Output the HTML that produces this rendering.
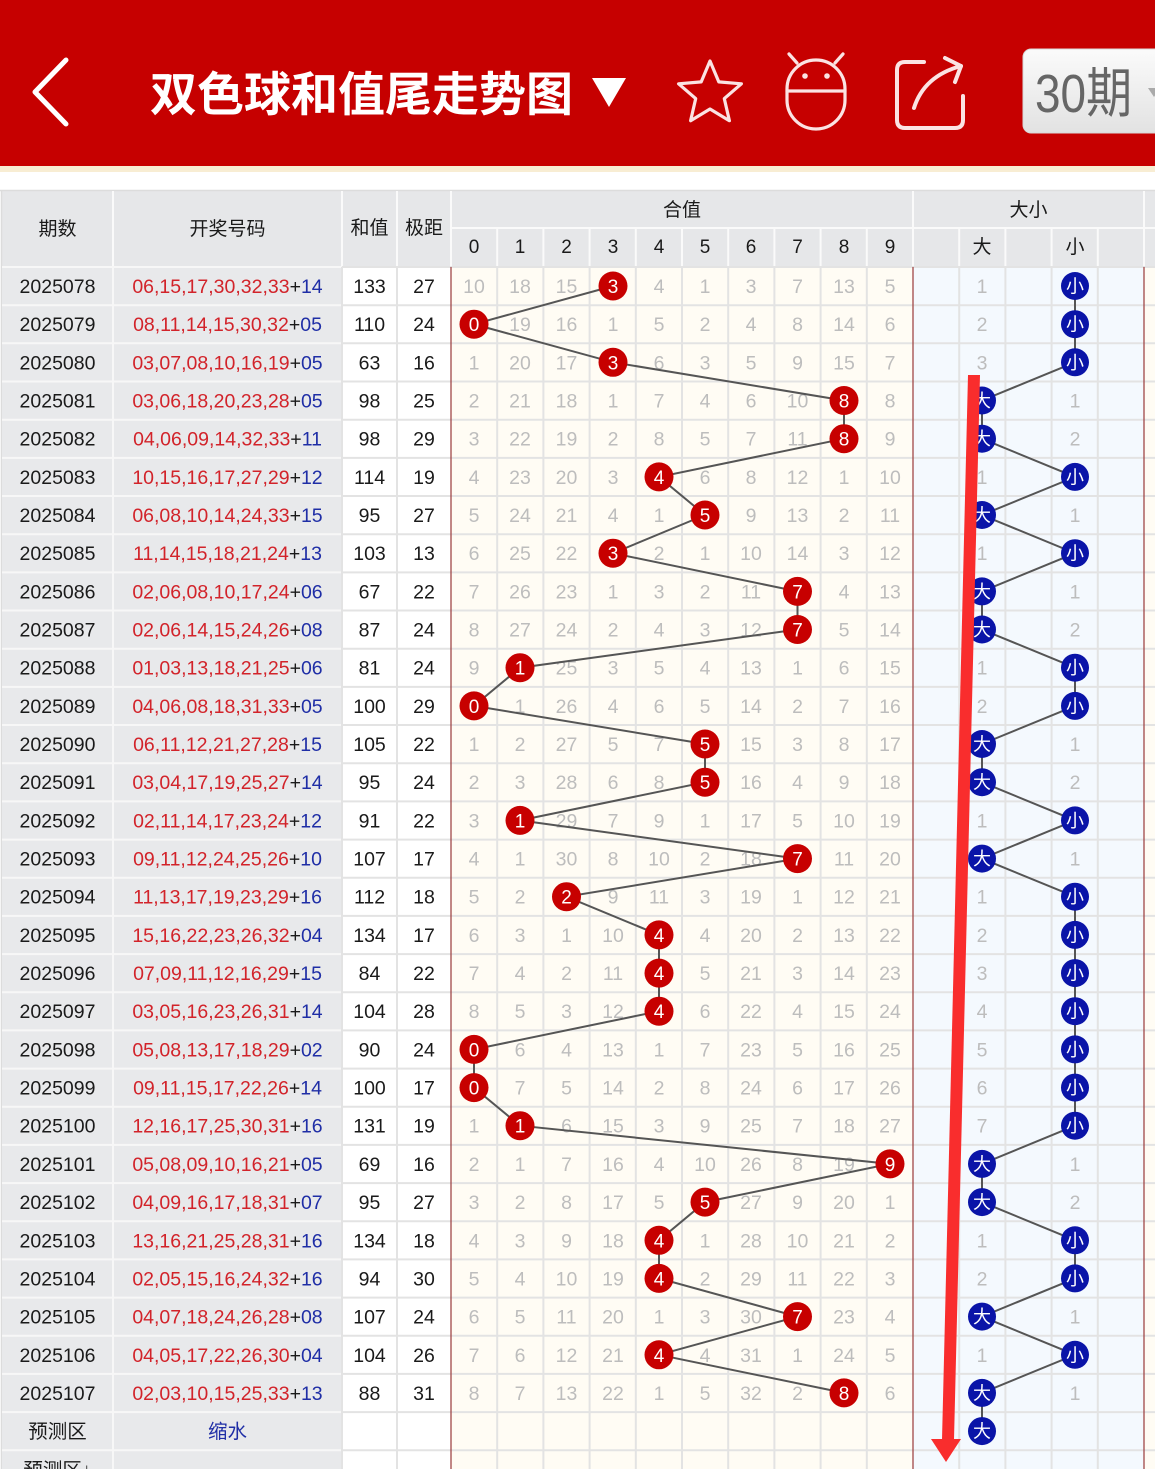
<!DOCTYPE html>
<html><head><meta charset="utf-8">
<style>
html,body{margin:0;padding:0;background:#fff;width:1155px;height:1469px;overflow:hidden}
svg{display:block}
text{font-family:"Liberation Sans","Noto Sans CJK SC",sans-serif}
.t{font-size:19.5px;fill:#1a1a1a;text-anchor:middle}
.r{fill:#d2232a}
.b{fill:#1f2ea6}
.m{font-size:19.5px;fill:#bdbdbd;text-anchor:middle}
.h{font-size:19px;fill:#1a1a1a;text-anchor:middle}
.rb circle{fill:#c70000}
.bb circle{fill:#0a14a8}
.rb text,.bb text{fill:#fff;text-anchor:middle}
.rb text{font-size:19px}
.bb text{font-size:18px}
</style></head>
<body>
<svg width="1155" height="1469" viewBox="0 0 1155 1469" xmlns="http://www.w3.org/2000/svg">
<defs>
<linearGradient id="btn" x1="0" y1="0" x2="0" y2="1"><stop offset="0" stop-color="#fbfbfb"/><stop offset="1" stop-color="#e2e2e2"/></linearGradient>
</defs>
<!-- top bar -->
<rect x="0" y="0" width="1155" height="166" fill="#c60000"/>
<rect x="0" y="166" width="1155" height="6" fill="#f8edd3"/>
<polyline points="66,60 35,92 66,124" fill="none" stroke="#fff" stroke-width="5" stroke-linecap="round" stroke-linejoin="round"/>
<text x="150" y="111" font-size="47" font-weight="bold" fill="#fff" style="font-family:'Noto Sans CJK SC','WenQuanYi Zen Hei',sans-serif">双色球和值尾走势图</text>
<polygon points="592,78 626,78 609,107" fill="#fff"/>
<polygon points="710,61 718.8,81.9 741.4,83.8 724.3,98.6 729.4,120.7 710,109 690.6,120.7 695.7,98.6 678.6,83.8 701.2,81.9" fill="none" stroke="#fbe3e3" stroke-width="3.2" stroke-linejoin="round"/>
<g fill="none" stroke="#fbe3e3" stroke-width="3.2" stroke-linecap="round">
<rect x="787" y="60" width="58" height="69" rx="29" ry="29"/>
<line x1="787" y1="91" x2="845" y2="91"/>
<line x1="789" y1="54" x2="797" y2="63"/>
<line x1="843" y1="54" x2="835" y2="63"/>
</g>
<circle cx="805" cy="76" r="2.8" fill="#fbe3e3"/>
<circle cx="827" cy="76" r="2.8" fill="#fbe3e3"/>
<g fill="none" stroke="#fbe3e3" stroke-width="4" stroke-linecap="round" stroke-linejoin="round">
<path d="M924,62 H905 Q897,62 897,70 V120 Q897,128 905,128 H955 Q963,128 963,120 V96"/>
<path d="M914,108 Q924,76 961,66"/>
<path d="M945,58 L961,66 L955,82"/>
</g>
<rect x="1023" y="49" width="150" height="84" rx="8" fill="url(#btn)" stroke="#d8d8d8"/>
<text x="1035" y="112" font-size="54" fill="#666" textLength="97" lengthAdjust="spacingAndGlyphs">30期</text>
<polygon points="1148,88 1160,88 1154,97" fill="#aaa"/>

<!-- table header -->
<rect x="2" y="191" width="1153" height="76" fill="#e6e7e9"/>
<line x1="0" y1="190.5" x2="1155" y2="190.5" stroke="#dcdcdc" stroke-width="1.5"/>
<line x1="1.5" y1="190" x2="1.5" y2="1469" stroke="#dcdcdc" stroke-width="1.5"/>
<g stroke="#fafafa" stroke-width="2">
<line x1="113" y1="191" x2="113" y2="267"/>
<line x1="342" y1="191" x2="342" y2="267"/>
<line x1="397" y1="191" x2="397" y2="267"/>
<line x1="451" y1="191" x2="451" y2="267"/>
<line x1="913" y1="191" x2="913" y2="267"/>
<line x1="1144" y1="191" x2="1144" y2="267"/>
<line x1="451" y1="228" x2="1155" y2="228"/>
<path d="M497.2,228V267M543.4,228V267M589.6,228V267M635.8,228V267M682,228V267M728.2,228V267M774.4,228V267M820.6,228V267M866.8,228V267M959.2,228V267M1005.4,228V267M1051.6,228V267M1097.8,228V267"/>
</g>
<text class="h" x="57.5" y="235">期数</text>
<text class="h" x="227.5" y="235">开奖号码</text>
<text class="h" x="369.5" y="234">和值</text>
<text class="h" x="424" y="234">极距</text>
<text class="h" x="682" y="216">合值</text>
<text class="h" x="1028.5" y="216">大小</text>
<text class="h" y="253"><tspan x="474">0</tspan><tspan x="520">1</tspan><tspan x="566.5">2</tspan><tspan x="613">3</tspan><tspan x="659">4</tspan><tspan x="705">5</tspan><tspan x="751">6</tspan><tspan x="797.5">7</tspan><tspan x="844">8</tspan><tspan x="890">9</tspan></text>
<text class="h" y="253"><tspan x="982">大</tspan><tspan x="1075">小</tspan></text>

<!-- body backgrounds -->
<rect x="2" y="267" width="340" height="1202" fill="#e8e9eb"/>
<rect x="342" y="267" width="109" height="1202" fill="#ffffff"/>
<rect x="451" y="267" width="462" height="1202" fill="#fffcf4"/>
<rect x="913" y="267" width="231" height="1202" fill="#f4f9fe"/>
<rect x="1144" y="267" width="11" height="1202" fill="#fffcf4"/>

<!-- grid -->
<path stroke="#f7f7f7" stroke-width="2" fill="none" d="M2,267H342M2,305.2H342M2,343.3H342M2,381.5H342M2,419.7H342M2,457.9H342M2,496H342M2,534.2H342M2,572.4H342M2,610.5H342M2,648.7H342M2,686.9H342M2,725H342M2,763.2H342M2,801.4H342M2,839.6H342M2,877.7H342M2,915.9H342M2,954.1H342M2,992.2H342M2,1030.4H342M2,1068.6H342M2,1106.7H342M2,1144.9H342M2,1183.1H342M2,1221.3H342M2,1259.4H342M2,1297.6H342M2,1335.8H342M2,1373.9H342M2,1412.1H342M2,1450.3H342M113,267V1469"/>
<path stroke="#e3e3e3" stroke-width="2" fill="none" d="M342,267H1155M342,305.2H1155M342,343.3H1155M342,381.5H1155M342,419.7H1155M342,457.9H1155M342,496H1155M342,534.2H1155M342,572.4H1155M342,610.5H1155M342,648.7H1155M342,686.9H1155M342,725H1155M342,763.2H1155M342,801.4H1155M342,839.6H1155M342,877.7H1155M342,915.9H1155M342,954.1H1155M342,992.2H1155M342,1030.4H1155M342,1068.6H1155M342,1106.7H1155M342,1144.9H1155M342,1183.1H1155M342,1221.3H1155M342,1259.4H1155M342,1297.6H1155M342,1335.8H1155M342,1373.9H1155M342,1412.1H1155M342,1450.3H1155M342,267V1469M397,267V1469M497.2,267V1469M543.4,267V1469M589.6,267V1469M635.8,267V1469M682,267V1469M728.2,267V1469M774.4,267V1469M820.6,267V1469M866.8,267V1469M959.2,267V1469M1005.4,267V1469M1051.6,267V1469M1097.8,267V1469"/>
<path stroke="#a04848" stroke-width="1.3" fill="none" d="M451,267V1469M913,267V1469M1144,267V1469"/>

<!-- rows text -->
<g transform="translate(0,286)"><text class="t" x="57.5" y="7">2025078</text><text class="t" x="227.5" y="7"><tspan class="r">06,15,17,30,32,33</tspan>+<tspan class="b">14</tspan></text><text class="t" x="369.5" y="7">133</text><text class="t" x="424" y="7">27</text><text class="m" y="7"><tspan x="474">10</tspan><tspan x="520">18</tspan><tspan x="566.5">15</tspan><tspan x="659">4</tspan><tspan x="705">1</tspan><tspan x="751">3</tspan><tspan x="797.5">7</tspan><tspan x="844">13</tspan><tspan x="890">5</tspan><tspan x="982">1</tspan></text></g>
<g transform="translate(0,324.2)"><text class="t" x="57.5" y="7">2025079</text><text class="t" x="227.5" y="7"><tspan class="r">08,11,14,15,30,32</tspan>+<tspan class="b">05</tspan></text><text class="t" x="369.5" y="7">110</text><text class="t" x="424" y="7">24</text><text class="m" y="7"><tspan x="520">19</tspan><tspan x="566.5">16</tspan><tspan x="613">1</tspan><tspan x="659">5</tspan><tspan x="705">2</tspan><tspan x="751">4</tspan><tspan x="797.5">8</tspan><tspan x="844">14</tspan><tspan x="890">6</tspan><tspan x="982">2</tspan></text></g>
<g transform="translate(0,362.3)"><text class="t" x="57.5" y="7">2025080</text><text class="t" x="227.5" y="7"><tspan class="r">03,07,08,10,16,19</tspan>+<tspan class="b">05</tspan></text><text class="t" x="369.5" y="7">63</text><text class="t" x="424" y="7">16</text><text class="m" y="7"><tspan x="474">1</tspan><tspan x="520">20</tspan><tspan x="566.5">17</tspan><tspan x="659">6</tspan><tspan x="705">3</tspan><tspan x="751">5</tspan><tspan x="797.5">9</tspan><tspan x="844">15</tspan><tspan x="890">7</tspan><tspan x="982">3</tspan></text></g>
<g transform="translate(0,400.5)"><text class="t" x="57.5" y="7">2025081</text><text class="t" x="227.5" y="7"><tspan class="r">03,06,18,20,23,28</tspan>+<tspan class="b">05</tspan></text><text class="t" x="369.5" y="7">98</text><text class="t" x="424" y="7">25</text><text class="m" y="7"><tspan x="474">2</tspan><tspan x="520">21</tspan><tspan x="566.5">18</tspan><tspan x="613">1</tspan><tspan x="659">7</tspan><tspan x="705">4</tspan><tspan x="751">6</tspan><tspan x="797.5">10</tspan><tspan x="890">8</tspan><tspan x="1075">1</tspan></text></g>
<g transform="translate(0,438.7)"><text class="t" x="57.5" y="7">2025082</text><text class="t" x="227.5" y="7"><tspan class="r">04,06,09,14,32,33</tspan>+<tspan class="b">11</tspan></text><text class="t" x="369.5" y="7">98</text><text class="t" x="424" y="7">29</text><text class="m" y="7"><tspan x="474">3</tspan><tspan x="520">22</tspan><tspan x="566.5">19</tspan><tspan x="613">2</tspan><tspan x="659">8</tspan><tspan x="705">5</tspan><tspan x="751">7</tspan><tspan x="797.5">11</tspan><tspan x="890">9</tspan><tspan x="1075">2</tspan></text></g>
<g transform="translate(0,476.9)"><text class="t" x="57.5" y="7">2025083</text><text class="t" x="227.5" y="7"><tspan class="r">10,15,16,17,27,29</tspan>+<tspan class="b">12</tspan></text><text class="t" x="369.5" y="7">114</text><text class="t" x="424" y="7">19</text><text class="m" y="7"><tspan x="474">4</tspan><tspan x="520">23</tspan><tspan x="566.5">20</tspan><tspan x="613">3</tspan><tspan x="705">6</tspan><tspan x="751">8</tspan><tspan x="797.5">12</tspan><tspan x="844">1</tspan><tspan x="890">10</tspan><tspan x="982">1</tspan></text></g>
<g transform="translate(0,515)"><text class="t" x="57.5" y="7">2025084</text><text class="t" x="227.5" y="7"><tspan class="r">06,08,10,14,24,33</tspan>+<tspan class="b">15</tspan></text><text class="t" x="369.5" y="7">95</text><text class="t" x="424" y="7">27</text><text class="m" y="7"><tspan x="474">5</tspan><tspan x="520">24</tspan><tspan x="566.5">21</tspan><tspan x="613">4</tspan><tspan x="659">1</tspan><tspan x="751">9</tspan><tspan x="797.5">13</tspan><tspan x="844">2</tspan><tspan x="890">11</tspan><tspan x="1075">1</tspan></text></g>
<g transform="translate(0,553.2)"><text class="t" x="57.5" y="7">2025085</text><text class="t" x="227.5" y="7"><tspan class="r">11,14,15,18,21,24</tspan>+<tspan class="b">13</tspan></text><text class="t" x="369.5" y="7">103</text><text class="t" x="424" y="7">13</text><text class="m" y="7"><tspan x="474">6</tspan><tspan x="520">25</tspan><tspan x="566.5">22</tspan><tspan x="659">2</tspan><tspan x="705">1</tspan><tspan x="751">10</tspan><tspan x="797.5">14</tspan><tspan x="844">3</tspan><tspan x="890">12</tspan><tspan x="982">1</tspan></text></g>
<g transform="translate(0,591.4)"><text class="t" x="57.5" y="7">2025086</text><text class="t" x="227.5" y="7"><tspan class="r">02,06,08,10,17,24</tspan>+<tspan class="b">06</tspan></text><text class="t" x="369.5" y="7">67</text><text class="t" x="424" y="7">22</text><text class="m" y="7"><tspan x="474">7</tspan><tspan x="520">26</tspan><tspan x="566.5">23</tspan><tspan x="613">1</tspan><tspan x="659">3</tspan><tspan x="705">2</tspan><tspan x="751">11</tspan><tspan x="844">4</tspan><tspan x="890">13</tspan><tspan x="1075">1</tspan></text></g>
<g transform="translate(0,629.5)"><text class="t" x="57.5" y="7">2025087</text><text class="t" x="227.5" y="7"><tspan class="r">02,06,14,15,24,26</tspan>+<tspan class="b">08</tspan></text><text class="t" x="369.5" y="7">87</text><text class="t" x="424" y="7">24</text><text class="m" y="7"><tspan x="474">8</tspan><tspan x="520">27</tspan><tspan x="566.5">24</tspan><tspan x="613">2</tspan><tspan x="659">4</tspan><tspan x="705">3</tspan><tspan x="751">12</tspan><tspan x="844">5</tspan><tspan x="890">14</tspan><tspan x="1075">2</tspan></text></g>
<g transform="translate(0,667.7)"><text class="t" x="57.5" y="7">2025088</text><text class="t" x="227.5" y="7"><tspan class="r">01,03,13,18,21,25</tspan>+<tspan class="b">06</tspan></text><text class="t" x="369.5" y="7">81</text><text class="t" x="424" y="7">24</text><text class="m" y="7"><tspan x="474">9</tspan><tspan x="566.5">25</tspan><tspan x="613">3</tspan><tspan x="659">5</tspan><tspan x="705">4</tspan><tspan x="751">13</tspan><tspan x="797.5">1</tspan><tspan x="844">6</tspan><tspan x="890">15</tspan><tspan x="982">1</tspan></text></g>
<g transform="translate(0,705.9)"><text class="t" x="57.5" y="7">2025089</text><text class="t" x="227.5" y="7"><tspan class="r">04,06,08,18,31,33</tspan>+<tspan class="b">05</tspan></text><text class="t" x="369.5" y="7">100</text><text class="t" x="424" y="7">29</text><text class="m" y="7"><tspan x="520">1</tspan><tspan x="566.5">26</tspan><tspan x="613">4</tspan><tspan x="659">6</tspan><tspan x="705">5</tspan><tspan x="751">14</tspan><tspan x="797.5">2</tspan><tspan x="844">7</tspan><tspan x="890">16</tspan><tspan x="982">2</tspan></text></g>
<g transform="translate(0,744)"><text class="t" x="57.5" y="7">2025090</text><text class="t" x="227.5" y="7"><tspan class="r">06,11,12,21,27,28</tspan>+<tspan class="b">15</tspan></text><text class="t" x="369.5" y="7">105</text><text class="t" x="424" y="7">22</text><text class="m" y="7"><tspan x="474">1</tspan><tspan x="520">2</tspan><tspan x="566.5">27</tspan><tspan x="613">5</tspan><tspan x="659">7</tspan><tspan x="751">15</tspan><tspan x="797.5">3</tspan><tspan x="844">8</tspan><tspan x="890">17</tspan><tspan x="1075">1</tspan></text></g>
<g transform="translate(0,782.2)"><text class="t" x="57.5" y="7">2025091</text><text class="t" x="227.5" y="7"><tspan class="r">03,04,17,19,25,27</tspan>+<tspan class="b">14</tspan></text><text class="t" x="369.5" y="7">95</text><text class="t" x="424" y="7">24</text><text class="m" y="7"><tspan x="474">2</tspan><tspan x="520">3</tspan><tspan x="566.5">28</tspan><tspan x="613">6</tspan><tspan x="659">8</tspan><tspan x="751">16</tspan><tspan x="797.5">4</tspan><tspan x="844">9</tspan><tspan x="890">18</tspan><tspan x="1075">2</tspan></text></g>
<g transform="translate(0,820.4)"><text class="t" x="57.5" y="7">2025092</text><text class="t" x="227.5" y="7"><tspan class="r">02,11,14,17,23,24</tspan>+<tspan class="b">12</tspan></text><text class="t" x="369.5" y="7">91</text><text class="t" x="424" y="7">22</text><text class="m" y="7"><tspan x="474">3</tspan><tspan x="566.5">29</tspan><tspan x="613">7</tspan><tspan x="659">9</tspan><tspan x="705">1</tspan><tspan x="751">17</tspan><tspan x="797.5">5</tspan><tspan x="844">10</tspan><tspan x="890">19</tspan><tspan x="982">1</tspan></text></g>
<g transform="translate(0,858.6)"><text class="t" x="57.5" y="7">2025093</text><text class="t" x="227.5" y="7"><tspan class="r">09,11,12,24,25,26</tspan>+<tspan class="b">10</tspan></text><text class="t" x="369.5" y="7">107</text><text class="t" x="424" y="7">17</text><text class="m" y="7"><tspan x="474">4</tspan><tspan x="520">1</tspan><tspan x="566.5">30</tspan><tspan x="613">8</tspan><tspan x="659">10</tspan><tspan x="705">2</tspan><tspan x="751">18</tspan><tspan x="844">11</tspan><tspan x="890">20</tspan><tspan x="1075">1</tspan></text></g>
<g transform="translate(0,896.7)"><text class="t" x="57.5" y="7">2025094</text><text class="t" x="227.5" y="7"><tspan class="r">11,13,17,19,23,29</tspan>+<tspan class="b">16</tspan></text><text class="t" x="369.5" y="7">112</text><text class="t" x="424" y="7">18</text><text class="m" y="7"><tspan x="474">5</tspan><tspan x="520">2</tspan><tspan x="613">9</tspan><tspan x="659">11</tspan><tspan x="705">3</tspan><tspan x="751">19</tspan><tspan x="797.5">1</tspan><tspan x="844">12</tspan><tspan x="890">21</tspan><tspan x="982">1</tspan></text></g>
<g transform="translate(0,934.9)"><text class="t" x="57.5" y="7">2025095</text><text class="t" x="227.5" y="7"><tspan class="r">15,16,22,23,26,32</tspan>+<tspan class="b">04</tspan></text><text class="t" x="369.5" y="7">134</text><text class="t" x="424" y="7">17</text><text class="m" y="7"><tspan x="474">6</tspan><tspan x="520">3</tspan><tspan x="566.5">1</tspan><tspan x="613">10</tspan><tspan x="705">4</tspan><tspan x="751">20</tspan><tspan x="797.5">2</tspan><tspan x="844">13</tspan><tspan x="890">22</tspan><tspan x="982">2</tspan></text></g>
<g transform="translate(0,973.1)"><text class="t" x="57.5" y="7">2025096</text><text class="t" x="227.5" y="7"><tspan class="r">07,09,11,12,16,29</tspan>+<tspan class="b">15</tspan></text><text class="t" x="369.5" y="7">84</text><text class="t" x="424" y="7">22</text><text class="m" y="7"><tspan x="474">7</tspan><tspan x="520">4</tspan><tspan x="566.5">2</tspan><tspan x="613">11</tspan><tspan x="705">5</tspan><tspan x="751">21</tspan><tspan x="797.5">3</tspan><tspan x="844">14</tspan><tspan x="890">23</tspan><tspan x="982">3</tspan></text></g>
<g transform="translate(0,1011.2)"><text class="t" x="57.5" y="7">2025097</text><text class="t" x="227.5" y="7"><tspan class="r">03,05,16,23,26,31</tspan>+<tspan class="b">14</tspan></text><text class="t" x="369.5" y="7">104</text><text class="t" x="424" y="7">28</text><text class="m" y="7"><tspan x="474">8</tspan><tspan x="520">5</tspan><tspan x="566.5">3</tspan><tspan x="613">12</tspan><tspan x="705">6</tspan><tspan x="751">22</tspan><tspan x="797.5">4</tspan><tspan x="844">15</tspan><tspan x="890">24</tspan><tspan x="982">4</tspan></text></g>
<g transform="translate(0,1049.4)"><text class="t" x="57.5" y="7">2025098</text><text class="t" x="227.5" y="7"><tspan class="r">05,08,13,17,18,29</tspan>+<tspan class="b">02</tspan></text><text class="t" x="369.5" y="7">90</text><text class="t" x="424" y="7">24</text><text class="m" y="7"><tspan x="520">6</tspan><tspan x="566.5">4</tspan><tspan x="613">13</tspan><tspan x="659">1</tspan><tspan x="705">7</tspan><tspan x="751">23</tspan><tspan x="797.5">5</tspan><tspan x="844">16</tspan><tspan x="890">25</tspan><tspan x="982">5</tspan></text></g>
<g transform="translate(0,1087.6)"><text class="t" x="57.5" y="7">2025099</text><text class="t" x="227.5" y="7"><tspan class="r">09,11,15,17,22,26</tspan>+<tspan class="b">14</tspan></text><text class="t" x="369.5" y="7">100</text><text class="t" x="424" y="7">17</text><text class="m" y="7"><tspan x="520">7</tspan><tspan x="566.5">5</tspan><tspan x="613">14</tspan><tspan x="659">2</tspan><tspan x="705">8</tspan><tspan x="751">24</tspan><tspan x="797.5">6</tspan><tspan x="844">17</tspan><tspan x="890">26</tspan><tspan x="982">6</tspan></text></g>
<g transform="translate(0,1125.7)"><text class="t" x="57.5" y="7">2025100</text><text class="t" x="227.5" y="7"><tspan class="r">12,16,17,25,30,31</tspan>+<tspan class="b">16</tspan></text><text class="t" x="369.5" y="7">131</text><text class="t" x="424" y="7">19</text><text class="m" y="7"><tspan x="474">1</tspan><tspan x="566.5">6</tspan><tspan x="613">15</tspan><tspan x="659">3</tspan><tspan x="705">9</tspan><tspan x="751">25</tspan><tspan x="797.5">7</tspan><tspan x="844">18</tspan><tspan x="890">27</tspan><tspan x="982">7</tspan></text></g>
<g transform="translate(0,1163.9)"><text class="t" x="57.5" y="7">2025101</text><text class="t" x="227.5" y="7"><tspan class="r">05,08,09,10,16,21</tspan>+<tspan class="b">05</tspan></text><text class="t" x="369.5" y="7">69</text><text class="t" x="424" y="7">16</text><text class="m" y="7"><tspan x="474">2</tspan><tspan x="520">1</tspan><tspan x="566.5">7</tspan><tspan x="613">16</tspan><tspan x="659">4</tspan><tspan x="705">10</tspan><tspan x="751">26</tspan><tspan x="797.5">8</tspan><tspan x="844">19</tspan><tspan x="1075">1</tspan></text></g>
<g transform="translate(0,1202.1)"><text class="t" x="57.5" y="7">2025102</text><text class="t" x="227.5" y="7"><tspan class="r">04,09,16,17,18,31</tspan>+<tspan class="b">07</tspan></text><text class="t" x="369.5" y="7">95</text><text class="t" x="424" y="7">27</text><text class="m" y="7"><tspan x="474">3</tspan><tspan x="520">2</tspan><tspan x="566.5">8</tspan><tspan x="613">17</tspan><tspan x="659">5</tspan><tspan x="751">27</tspan><tspan x="797.5">9</tspan><tspan x="844">20</tspan><tspan x="890">1</tspan><tspan x="1075">2</tspan></text></g>
<g transform="translate(0,1240.3)"><text class="t" x="57.5" y="7">2025103</text><text class="t" x="227.5" y="7"><tspan class="r">13,16,21,25,28,31</tspan>+<tspan class="b">16</tspan></text><text class="t" x="369.5" y="7">134</text><text class="t" x="424" y="7">18</text><text class="m" y="7"><tspan x="474">4</tspan><tspan x="520">3</tspan><tspan x="566.5">9</tspan><tspan x="613">18</tspan><tspan x="705">1</tspan><tspan x="751">28</tspan><tspan x="797.5">10</tspan><tspan x="844">21</tspan><tspan x="890">2</tspan><tspan x="982">1</tspan></text></g>
<g transform="translate(0,1278.4)"><text class="t" x="57.5" y="7">2025104</text><text class="t" x="227.5" y="7"><tspan class="r">02,05,15,16,24,32</tspan>+<tspan class="b">16</tspan></text><text class="t" x="369.5" y="7">94</text><text class="t" x="424" y="7">30</text><text class="m" y="7"><tspan x="474">5</tspan><tspan x="520">4</tspan><tspan x="566.5">10</tspan><tspan x="613">19</tspan><tspan x="705">2</tspan><tspan x="751">29</tspan><tspan x="797.5">11</tspan><tspan x="844">22</tspan><tspan x="890">3</tspan><tspan x="982">2</tspan></text></g>
<g transform="translate(0,1316.6)"><text class="t" x="57.5" y="7">2025105</text><text class="t" x="227.5" y="7"><tspan class="r">04,07,18,24,26,28</tspan>+<tspan class="b">08</tspan></text><text class="t" x="369.5" y="7">107</text><text class="t" x="424" y="7">24</text><text class="m" y="7"><tspan x="474">6</tspan><tspan x="520">5</tspan><tspan x="566.5">11</tspan><tspan x="613">20</tspan><tspan x="659">1</tspan><tspan x="705">3</tspan><tspan x="751">30</tspan><tspan x="844">23</tspan><tspan x="890">4</tspan><tspan x="1075">1</tspan></text></g>
<g transform="translate(0,1354.8)"><text class="t" x="57.5" y="7">2025106</text><text class="t" x="227.5" y="7"><tspan class="r">04,05,17,22,26,30</tspan>+<tspan class="b">04</tspan></text><text class="t" x="369.5" y="7">104</text><text class="t" x="424" y="7">26</text><text class="m" y="7"><tspan x="474">7</tspan><tspan x="520">6</tspan><tspan x="566.5">12</tspan><tspan x="613">21</tspan><tspan x="705">4</tspan><tspan x="751">31</tspan><tspan x="797.5">1</tspan><tspan x="844">24</tspan><tspan x="890">5</tspan><tspan x="982">1</tspan></text></g>
<g transform="translate(0,1392.9)"><text class="t" x="57.5" y="7">2025107</text><text class="t" x="227.5" y="7"><tspan class="r">02,03,10,15,25,33</tspan>+<tspan class="b">13</tspan></text><text class="t" x="369.5" y="7">88</text><text class="t" x="424" y="7">31</text><text class="m" y="7"><tspan x="474">8</tspan><tspan x="520">7</tspan><tspan x="566.5">13</tspan><tspan x="613">22</tspan><tspan x="659">1</tspan><tspan x="705">5</tspan><tspan x="751">32</tspan><tspan x="797.5">2</tspan><tspan x="890">6</tspan><tspan x="1075">1</tspan></text></g>
<g transform="translate(0,1431.1)"><text class="t" x="57.5" y="7">预测区</text><text class="t" x="227.5" y="7" fill="#1f2ea6" style="fill:#1f2ea6">缩水</text></g>
<g transform="translate(0,1469.3)"><text class="t" x="57.5" y="7">预测区↓</text></g>

<!-- connector lines -->
<polyline fill="none" stroke="#555" stroke-width="2" points="613,286 474,324.2 613,362.3 844,400.5 844,438.7 659,476.9 705,515 613,553.2 797.5,591.4 797.5,629.5 520,667.7 474,705.9 705,744 705,782.2 520,820.4 797.5,858.6 566.5,896.7 659,934.9 659,973.1 659,1011.2 474,1049.4 474,1087.6 520,1125.7 890,1163.9 705,1202.1 659,1240.3 659,1278.4 797.5,1316.6 659,1354.8 844,1392.9"/>
<polyline fill="none" stroke="#555" stroke-width="2" points="1075,286 1075,324.2 1075,362.3 982,400.5 982,438.7 1075,476.9 982,515 1075,553.2 982,591.4 982,629.5 1075,667.7 1075,705.9 982,744 982,782.2 1075,820.4 982,858.6 1075,896.7 1075,934.9 1075,973.1 1075,1011.2 1075,1049.4 1075,1087.6 1075,1125.7 982,1163.9 982,1202.1 1075,1240.3 1075,1278.4 982,1316.6 1075,1354.8 982,1392.9 982,1431.1"/>

<!-- red balls -->
<g class="rb" transform="translate(613,286)"><circle r="14.5"/><text y="7">3</text></g>
<g class="rb" transform="translate(474,324.2)"><circle r="14.5"/><text y="7">0</text></g>
<g class="rb" transform="translate(613,362.3)"><circle r="14.5"/><text y="7">3</text></g>
<g class="rb" transform="translate(844,400.5)"><circle r="14.5"/><text y="7">8</text></g>
<g class="rb" transform="translate(844,438.7)"><circle r="14.5"/><text y="7">8</text></g>
<g class="rb" transform="translate(659,476.9)"><circle r="14.5"/><text y="7">4</text></g>
<g class="rb" transform="translate(705,515)"><circle r="14.5"/><text y="7">5</text></g>
<g class="rb" transform="translate(613,553.2)"><circle r="14.5"/><text y="7">3</text></g>
<g class="rb" transform="translate(797.5,591.4)"><circle r="14.5"/><text y="7">7</text></g>
<g class="rb" transform="translate(797.5,629.5)"><circle r="14.5"/><text y="7">7</text></g>
<g class="rb" transform="translate(520,667.7)"><circle r="14.5"/><text y="7">1</text></g>
<g class="rb" transform="translate(474,705.9)"><circle r="14.5"/><text y="7">0</text></g>
<g class="rb" transform="translate(705,744)"><circle r="14.5"/><text y="7">5</text></g>
<g class="rb" transform="translate(705,782.2)"><circle r="14.5"/><text y="7">5</text></g>
<g class="rb" transform="translate(520,820.4)"><circle r="14.5"/><text y="7">1</text></g>
<g class="rb" transform="translate(797.5,858.6)"><circle r="14.5"/><text y="7">7</text></g>
<g class="rb" transform="translate(566.5,896.7)"><circle r="14.5"/><text y="7">2</text></g>
<g class="rb" transform="translate(659,934.9)"><circle r="14.5"/><text y="7">4</text></g>
<g class="rb" transform="translate(659,973.1)"><circle r="14.5"/><text y="7">4</text></g>
<g class="rb" transform="translate(659,1011.2)"><circle r="14.5"/><text y="7">4</text></g>
<g class="rb" transform="translate(474,1049.4)"><circle r="14.5"/><text y="7">0</text></g>
<g class="rb" transform="translate(474,1087.6)"><circle r="14.5"/><text y="7">0</text></g>
<g class="rb" transform="translate(520,1125.7)"><circle r="14.5"/><text y="7">1</text></g>
<g class="rb" transform="translate(890,1163.9)"><circle r="14.5"/><text y="7">9</text></g>
<g class="rb" transform="translate(705,1202.1)"><circle r="14.5"/><text y="7">5</text></g>
<g class="rb" transform="translate(659,1240.3)"><circle r="14.5"/><text y="7">4</text></g>
<g class="rb" transform="translate(659,1278.4)"><circle r="14.5"/><text y="7">4</text></g>
<g class="rb" transform="translate(797.5,1316.6)"><circle r="14.5"/><text y="7">7</text></g>
<g class="rb" transform="translate(659,1354.8)"><circle r="14.5"/><text y="7">4</text></g>
<g class="rb" transform="translate(844,1392.9)"><circle r="14.5"/><text y="7">8</text></g>

<!-- blue balls -->
<g class="bb" transform="translate(1075,286)"><circle r="14"/><text y="6.5">小</text></g>
<g class="bb" transform="translate(1075,324.2)"><circle r="14"/><text y="6.5">小</text></g>
<g class="bb" transform="translate(1075,362.3)"><circle r="14"/><text y="6.5">小</text></g>
<g class="bb" transform="translate(982,400.5)"><circle r="14"/><text y="6.5">大</text></g>
<g class="bb" transform="translate(982,438.7)"><circle r="14"/><text y="6.5">大</text></g>
<g class="bb" transform="translate(1075,476.9)"><circle r="14"/><text y="6.5">小</text></g>
<g class="bb" transform="translate(982,515)"><circle r="14"/><text y="6.5">大</text></g>
<g class="bb" transform="translate(1075,553.2)"><circle r="14"/><text y="6.5">小</text></g>
<g class="bb" transform="translate(982,591.4)"><circle r="14"/><text y="6.5">大</text></g>
<g class="bb" transform="translate(982,629.5)"><circle r="14"/><text y="6.5">大</text></g>
<g class="bb" transform="translate(1075,667.7)"><circle r="14"/><text y="6.5">小</text></g>
<g class="bb" transform="translate(1075,705.9)"><circle r="14"/><text y="6.5">小</text></g>
<g class="bb" transform="translate(982,744)"><circle r="14"/><text y="6.5">大</text></g>
<g class="bb" transform="translate(982,782.2)"><circle r="14"/><text y="6.5">大</text></g>
<g class="bb" transform="translate(1075,820.4)"><circle r="14"/><text y="6.5">小</text></g>
<g class="bb" transform="translate(982,858.6)"><circle r="14"/><text y="6.5">大</text></g>
<g class="bb" transform="translate(1075,896.7)"><circle r="14"/><text y="6.5">小</text></g>
<g class="bb" transform="translate(1075,934.9)"><circle r="14"/><text y="6.5">小</text></g>
<g class="bb" transform="translate(1075,973.1)"><circle r="14"/><text y="6.5">小</text></g>
<g class="bb" transform="translate(1075,1011.2)"><circle r="14"/><text y="6.5">小</text></g>
<g class="bb" transform="translate(1075,1049.4)"><circle r="14"/><text y="6.5">小</text></g>
<g class="bb" transform="translate(1075,1087.6)"><circle r="14"/><text y="6.5">小</text></g>
<g class="bb" transform="translate(1075,1125.7)"><circle r="14"/><text y="6.5">小</text></g>
<g class="bb" transform="translate(982,1163.9)"><circle r="14"/><text y="6.5">大</text></g>
<g class="bb" transform="translate(982,1202.1)"><circle r="14"/><text y="6.5">大</text></g>
<g class="bb" transform="translate(1075,1240.3)"><circle r="14"/><text y="6.5">小</text></g>
<g class="bb" transform="translate(1075,1278.4)"><circle r="14"/><text y="6.5">小</text></g>
<g class="bb" transform="translate(982,1316.6)"><circle r="14"/><text y="6.5">大</text></g>
<g class="bb" transform="translate(1075,1354.8)"><circle r="14"/><text y="6.5">小</text></g>
<g class="bb" transform="translate(982,1392.9)"><circle r="14"/><text y="6.5">大</text></g>
<g class="bb" transform="translate(982,1431.1)"><circle r="14"/><text y="6.5">大</text></g>

<!-- red arrow -->
<polygon points="968,375 980,375 954,1440 942,1440" fill="#f92d2d"/>
<polygon points="931,1439 961,1439 946,1462" fill="#f92d2d"/>
</svg>
</body></html>
